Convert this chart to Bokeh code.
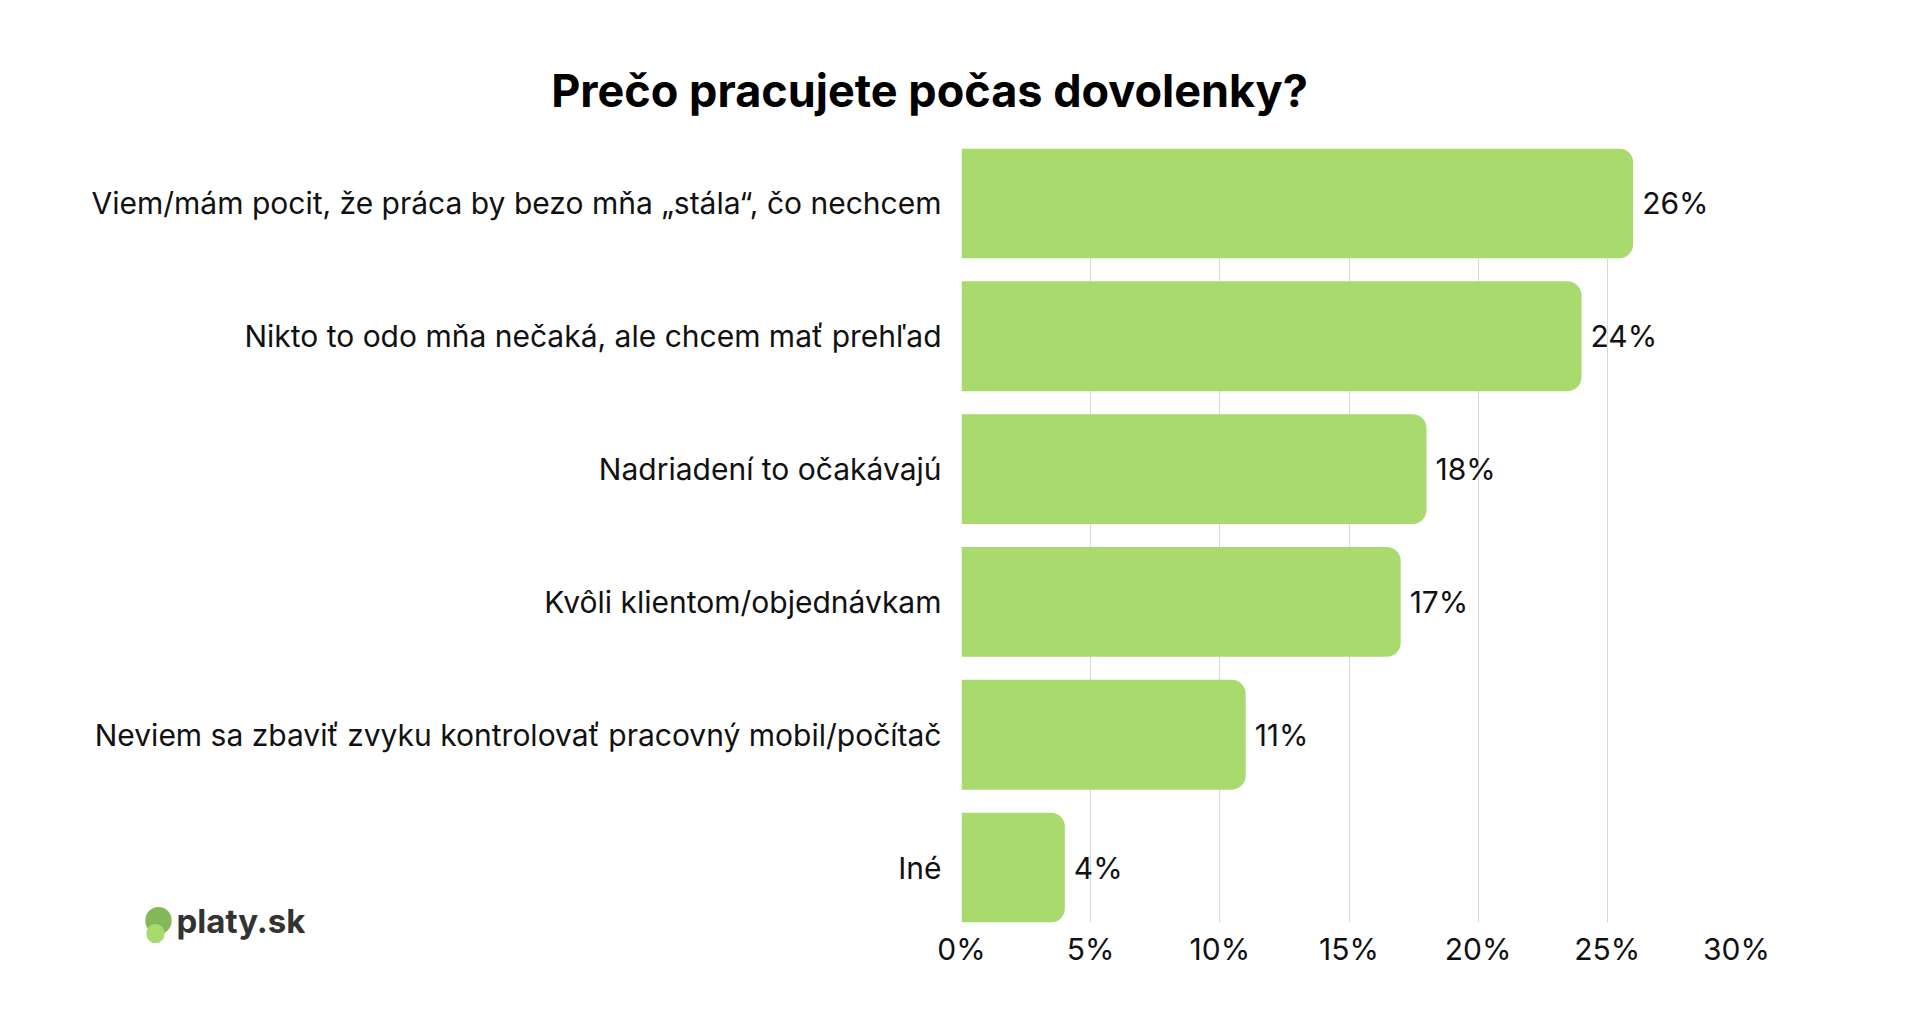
from bokeh.plotting import figure
from bokeh.models import ColumnDataSource, Range1d, FixedTicker, Label
from bokeh.core.properties import value
from bokeh.embed import file_html
from bokeh.resources import INLINE

# data
categories = [
    "Viem/mám pocit, že práca by bezo mňa „stála“, čo nechcem",
    "Nikto to odo mňa nečaká, ale chcem mať prehľad",
    "Nadriadení to očakávajú",
    "Kvôli klientom/objednávkam",
    "Neviem sa zbaviť zvyku kontrolovať pracovný mobil/počítač",
    "Iné",
]
shares = [26, 24, 18, 17, 11, 4]
x_ticks = [0, 5, 10, 15, 20, 25, 30]
title = "Prečo pracujete počas dovolenky?"
brand = "platy.sk"

FONT = "Inter"
BAR = "#a8da6e"
W, H = 1904, 995
B_LEFT, B_RIGHT, B_TOP, B_BOTTOM = 961, 168, 148, 73
n = len(categories)
pos = list(range(n - 1, -1, -1))  # first category on top
bar_h = 0.827
y0, y1 = -bar_h / 2, n - 1 + bar_h / 2
x0, x1 = 0, 30

# pixel offsets (from frame left / frame bottom) -> data units, for the
# title and logo that sit outside the plotting frame
ppx = (W - B_LEFT - B_RIGHT) / (x1 - x0)
ppy = (H - B_TOP - B_BOTTOM) / (y1 - y0)


def px_x(dx):
    return x0 + dx / ppx


def px_y(dy):
    return y0 + dy / ppy


source = ColumnDataSource(dict(
    y=pos,
    share=shares,
    label=["{}%".format(s) for s in shares],
))

p = figure(width=W, height=H, output_backend="svg", toolbar_location=None,
           x_range=Range1d(x0, x1), y_range=Range1d(y0, y1),
           min_border_left=B_LEFT, min_border_right=B_RIGHT,
           min_border_top=B_TOP, min_border_bottom=B_BOTTOM)
p.outline_line_color = None
p.background_fill_color = "white"
p.border_fill_color = "white"

p.hbar(y="y", right="share", left=0, height=bar_h, source=source,
       fill_color=BAR, line_color=None, border_radius=(0, 14, 14, 0))

p.text(x="share", y="y", text="label", source=source, x_offset=9,
       text_font=value(FONT), text_font_size="30px", text_color="#111111",
       text_baseline="middle", text_align="left")

# axes
p.xaxis.ticker = FixedTicker(ticks=x_ticks)
p.xaxis.major_label_overrides = {t: "{}%".format(t) for t in x_ticks}
p.yaxis.ticker = FixedTicker(ticks=pos)
p.yaxis.major_label_overrides = {y: c for y, c in zip(pos, categories)}
for ax in (p.xaxis[0], p.yaxis[0]):
    ax.axis_line_color = None
    ax.major_tick_line_color = None
    ax.minor_tick_line_color = None
    ax.major_tick_out = 0
    ax.major_tick_in = 0
    ax.major_label_text_font = FONT
    ax.major_label_text_font_size = "30px"
    ax.major_label_text_color = "#111111"
p.xaxis.major_label_standoff = 8
p.yaxis.major_label_standoff = 20

p.ygrid.grid_line_color = None
p.xgrid.ticker = FixedTicker(ticks=x_ticks)
p.xgrid.grid_line_color = "#d9d9d9"
p.xgrid.grid_line_width = 1

# title (in the top panel so it is not clipped by the frame)
frame_h = H - B_TOP - B_BOTTOM
p.add_layout(Label(x=px_x(-32), y=px_y(frame_h + 58), text=title,
                   text_font=FONT, text_font_size="45px", text_font_style="bold",
                   text_color="#000000", text_align="center",
                   text_baseline="middle"), "above")

# logo
p.add_layout(Label(x=px_x(-785), y=px_y(2), text=brand, text_font=FONT,
                   text_font_size="33px", text_font_style="bold",
                   text_color="#333333", text_align="left",
                   text_baseline="alphabetic"), "above")
p.add_layout(Label(x=px_x(-803), y=px_y(2), text=" ", text_font_size="1px",
                   text_align="center", text_baseline="middle", padding=13,
                   border_radius=14, background_fill_color="#84b85a",
                   background_fill_alpha=1), "right")
p.add_layout(Label(x=px_x(-806), y=px_y(-11), text=" ", text_font_size="1px",
                   text_align="center", text_baseline="middle", padding=9,
                   border_radius=10, background_fill_color="#a8da6e",
                   background_fill_alpha=1), "right")

open("out.html", "w").write(file_html(p, INLINE))
